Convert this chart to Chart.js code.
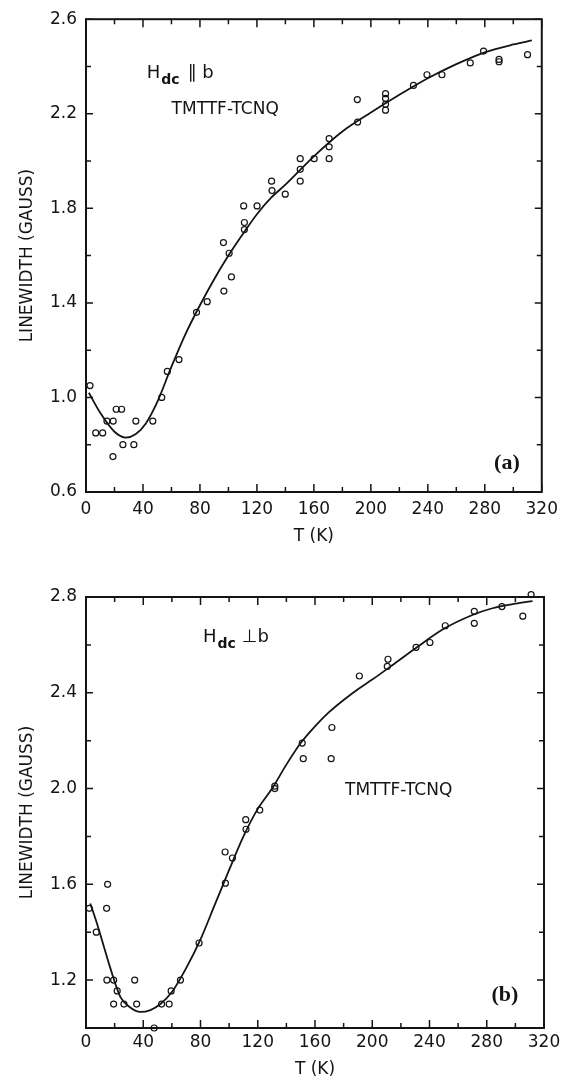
<!DOCTYPE html>
<html>
<head>
    <meta charset="utf-8">
    <title>TMTTF-TCNQ linewidth</title>
    <script src="https://cdn.jsdelivr.net/npm/chart.js"></script>
    <style>
        body { margin: 0; background: #fff; }
        .panel { position: absolute; left: 0; width: 565px; }
        #panel-a { top: 0; height: 550px; }
        #panel-b { top: 550px; height: 530px; }
    </style>
</head>
<body>
    <div class="panel" id="panel-a"><canvas id="chart-a"></canvas></div>
    <div class="panel" id="panel-b"><canvas id="chart-b"></canvas></div>

    <script>
        // (a) H_dc || b : measured points
        const tempA = [2.8, 6.8, 11.7, 14.7, 19.1, 18.9, 21.2, 25.0, 25.9, 33.6, 35.0, 46.9, 53.2, 57.1, 65.3,
            77.6, 85.1, 96.8, 96.5, 100.5, 102.1, 110.7, 111.2, 111.2, 120.1, 130.3, 130.6, 139.9, 150.4, 150.4,
            150.4, 160.2, 170.7, 170.7, 170.7, 190.5, 190.7, 210.3, 210.3, 210.3, 210.3, 229.9, 239.4, 249.9,
            269.8, 279.1, 290.0, 290.0, 310.0];
        const widthA = [1.05, 0.85, 0.85, 0.90, 0.90, 0.75, 0.95, 0.95, 0.80, 0.80, 0.90, 0.90, 1.00, 1.11, 1.16,
            1.36, 1.405, 1.45, 1.655, 1.61, 1.51, 1.81, 1.74, 1.71, 1.81, 1.915, 1.875, 1.86, 2.01, 1.965,
            1.915, 2.01, 2.095, 2.06, 2.01, 2.26, 2.165, 2.285, 2.265, 2.24, 2.215, 2.32, 2.365, 2.365,
            2.415, 2.465, 2.43, 2.42, 2.45];
        // (a) smooth curve
        const fitTempA = [2, 10, 20, 28, 35, 42, 50, 60, 70, 80, 90, 100, 110, 120, 130, 140, 160, 180, 200, 220, 240, 260, 280, 300, 313];
        const fitWidthA = [1.02, 0.935, 0.855, 0.83, 0.845, 0.89, 0.98, 1.13, 1.27, 1.39, 1.50, 1.60, 1.69, 1.775, 1.845, 1.90, 2.02, 2.125, 2.205, 2.28, 2.35, 2.41, 2.46, 2.493, 2.51];

        // (b) H_dc _|_ b : measured points
        const tempB = [2.3, 7.2, 15.1, 14.4, 14.6, 19.3, 19.3, 21.8, 26.5, 34.0, 35.4, 47.6, 52.8, 58.1, 59.5,
            66.0, 79.0, 97.4, 97.2, 102.3, 111.6, 111.8, 121.4, 131.9, 131.9, 151.1, 151.8, 171.8, 171.3,
            191.0, 211.0, 210.5, 230.6, 240.3, 251.0, 271.3, 271.3, 290.6, 305.2, 311.0];
        const widthB = [1.50, 1.40, 1.60, 1.50, 1.20, 1.20, 1.10, 1.155, 1.10, 1.20, 1.10, 1.00, 1.10, 1.10, 1.155,
            1.20, 1.355, 1.605, 1.735, 1.71, 1.87, 1.83, 1.91, 2.01, 2.00, 2.19, 2.125, 2.255, 2.125,
            2.47, 2.54, 2.51, 2.59, 2.61, 2.68, 2.74, 2.69, 2.76, 2.72, 2.81];
        // (b) smooth curve
        const fitTempB = [3, 8, 12, 17, 24, 30, 38, 45, 52, 60, 70, 80, 90, 100, 110, 120, 130, 140, 150, 160, 170, 180, 190, 200, 214, 230, 250, 270, 284, 300, 312];
        const fitWidthB = [1.52, 1.43, 1.35, 1.25, 1.13, 1.09, 1.067, 1.075, 1.10, 1.15, 1.25, 1.37, 1.515, 1.66, 1.80, 1.915, 2.0, 2.10, 2.19, 2.26, 2.32, 2.37, 2.415, 2.455, 2.515, 2.585, 2.667, 2.725, 2.753, 2.772, 2.783];

        // tick labels
        const xLabels = [0, 40, 80, 120, 160, 200, 240, 280, 320];
        const yLabelsA = [0.6, 1.0, 1.4, 1.8, 2.2, 2.6];
        const yLabelsB = [1.2, 1.6, 2.0, 2.4, 2.8];

        const INK = '#141414';
        const SANS = "'DejaVu Sans', sans-serif";
        const SERIF = "'Liberation Serif', serif";

        const isLabelled = (list, v) => list.some(l => Math.abs(l - v) < 1e-6);

        // frame with inward ticks on all four sides + text notes
        const framePlugin = {
            id: 'frame',
            afterDatasetsDraw(chart, args, opts) {
                const { ctx, chartArea: a, scales: { x, y } } = chart;
                ctx.save();
                ctx.strokeStyle = INK;
                ctx.lineWidth = 2;
                ctx.strokeRect(a.left, a.top, a.right - a.left, a.bottom - a.top);

                ctx.lineWidth = 1.5;
                ctx.beginPath();
                x.ticks.forEach(t => {
                    const px = x.getPixelForValue(t.value);
                    const len = isLabelled(xLabels, t.value) ? 8 : 5;
                    ctx.moveTo(px, a.bottom); ctx.lineTo(px, a.bottom - len);
                    ctx.moveTo(px, a.top); ctx.lineTo(px, a.top + len);
                });
                y.ticks.forEach(t => {
                    const py = y.getPixelForValue(t.value);
                    const len = isLabelled(opts.yLabels, t.value) ? 7 : 5;
                    ctx.moveTo(a.left, py); ctx.lineTo(a.left + len, py);
                    ctx.moveTo(a.right, py); ctx.lineTo(a.right - len, py);
                });
                ctx.stroke();

                ctx.fillStyle = INK;
                ctx.textBaseline = 'alphabetic';
                (opts.notes || []).forEach(n => {
                    const px = x.getPixelForValue(n.x);
                    const py = y.getPixelForValue(n.y);
                    if (n.kind === 'field') {
                        ctx.textAlign = 'left';
                        ctx.font = '18px ' + SANS;
                        ctx.fillText('H', px, py);
                        let cx = px + ctx.measureText('H').width + 1;
                        ctx.font = 'bold 14px ' + SANS;
                        ctx.fillText('dc', cx, py + 6);
                        cx += ctx.measureText('dc').width + n.gap;
                        ctx.font = '18px ' + SANS;
                        ctx.fillText(n.rel, cx, py);
                    } else if (n.kind === 'tag') {
                        ctx.textAlign = 'center';
                        ctx.font = 'bold 22px ' + SERIF;
                        ctx.fillText(n.text, px, py);
                    } else {
                        ctx.textAlign = 'left';
                        ctx.font = '17px ' + SANS;
                        ctx.fillText(n.text, px, py);
                    }
                });
                ctx.restore();
            }
        };

        function makePanel(canvasId, p) {
            return new Chart(document.getElementById(canvasId), {
                type: 'scatter',
                data: {
                    datasets: [
                        {
                            label: 'measured',
                            data: p.temps.map((t, i) => ({ x: t, y: p.widths[i] })),
                            showLine: false,
                            pointStyle: 'circle',
                            pointRadius: 3,
                            borderWidth: 1.2,
                            borderColor: INK,
                            backgroundColor: 'rgba(0,0,0,0)',
                            clip: false
                        },
                        {
                            label: 'fit',
                            data: p.fitTemps.map((t, i) => ({ x: t, y: p.fitWidths[i] })),
                            showLine: true,
                            pointRadius: 0,
                            borderWidth: 1.8,
                            borderColor: INK,
                            cubicInterpolationMode: 'monotone',
                            fill: false
                        }
                    ]
                },
                options: {
                    responsive: true,
                    maintainAspectRatio: false,
                    animation: false,
                    events: [],
                    layout: { padding: { left: 0, right: 21, top: p.padTop, bottom: 0 } },
                    plugins: {
                        legend: { display: false },
                        tooltip: { enabled: false },
                        frame: { yLabels: p.yLabels, notes: p.notes }
                    },
                    scales: {
                        x: {
                            type: 'linear', min: 0, max: 320,
                            border: { display: false },
                            grid: { display: false, drawTicks: false },
                            ticks: {
                                stepSize: 20, autoSkip: false, maxRotation: 0,
                                padding: p.xTickPad, color: INK, font: { family: SANS, size: 17 },
                                callback: v => isLabelled(xLabels, v) ? String(v) : ''
                            },
                            title: {
                                display: true, text: 'T (K)', color: INK,
                                font: { family: SANS, size: 17 },
                                padding: { top: 0, bottom: p.xTitlePad }
                            },
                            afterFit: s => { s.height = p.xHeight; }
                        },
                        y: {
                            type: 'linear', min: p.yMin, max: p.yMax,
                            border: { display: false },
                            grid: { display: false, drawTicks: false },
                            ticks: {
                                stepSize: 0.2, autoSkip: false,
                                padding: 9, color: INK, font: { family: SANS, size: 17 },
                                callback: v => isLabelled(p.yLabels, v) ? v.toFixed(1) : ''
                            },
                            title: {
                                display: true, text: 'LINEWIDTH (GAUSS)', color: INK,
                                font: { family: SANS, size: 17 },
                                padding: { top: 17, bottom: 0 }
                            },
                            afterFit: s => { s.width = 86; }
                        }
                    }
                },
                plugins: [framePlugin]
            });
        }

        makePanel('chart-a', {
            temps: tempA, widths: widthA, fitTemps: fitTempA, fitWidths: fitWidthA,
            yMin: 0.6, yMax: 2.6, yLabels: yLabelsA,
            padTop: 16, xHeight: 58, xTickPad: 7, xTitlePad: 3,
            notes: [
                { kind: 'field', x: 42.6, y: 2.352, rel: '\u2225 b', gap: 8 },
                { kind: 'text', x: 60.1, y: 2.197, text: 'TMTTF-TCNQ' },
                { kind: 'tag', x: 295.5, y: 0.697, text: '(a)' }
            ]
        });

        makePanel('chart-b', {
            temps: tempB, widths: widthB, fitTemps: fitTempB, fitWidths: fitWidthB,
            yMin: 1.0, yMax: 2.8, yLabels: yLabelsB,
            padTop: 47, xHeight: 52, xTickPad: 4, xTitlePad: 0,
            notes: [
                { kind: 'field', x: 81.7, y: 2.612, rel: '\u22A5b', gap: 6 },
                { kind: 'text', x: 181, y: 1.973, text: 'TMTTF-TCNQ' },
                { kind: 'tag', x: 292.7, y: 1.112, text: '(b)' }
            ]
        });
    </script>
</body>
</html>
